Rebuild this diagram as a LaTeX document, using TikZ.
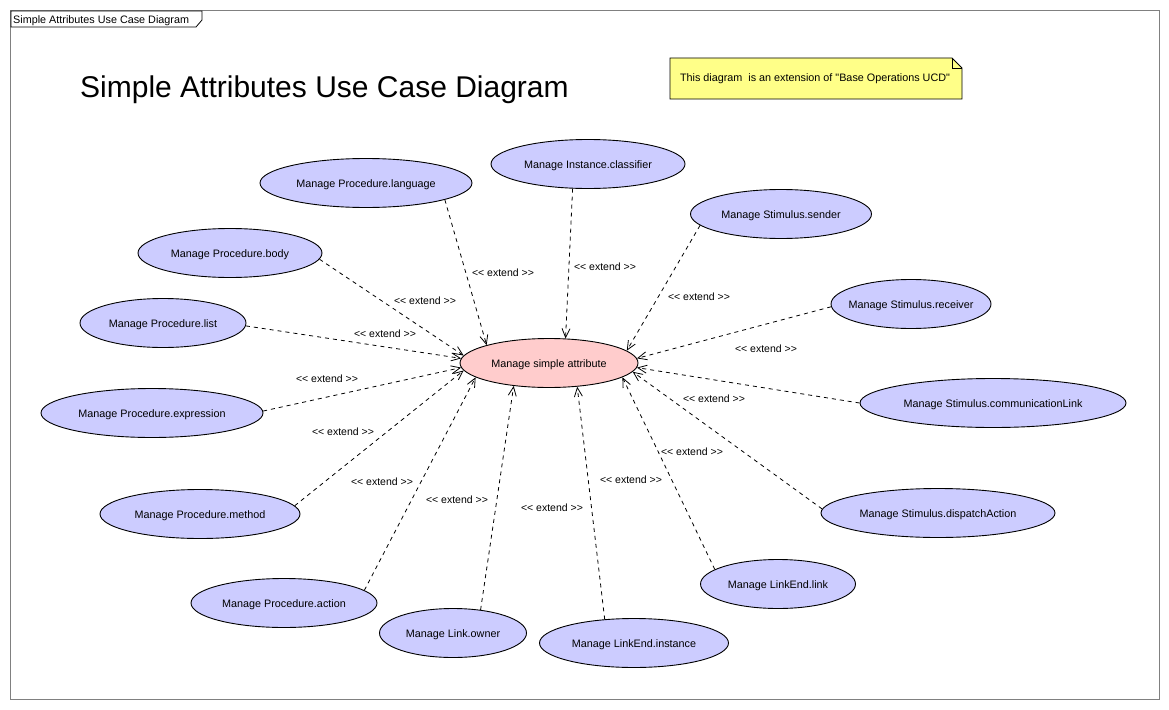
\documentclass[tikz,border=0pt]{standalone}
\usepackage{fontspec}
\setmainfont{Liberation Sans}[Ligatures=TeXOff]
\usetikzlibrary{arrows.meta,shapes.geometric}
\definecolor{ucfill}{RGB}{204,204,255}
\definecolor{mainfill}{RGB}{255,204,204}
\definecolor{notefill}{RGB}{255,255,136}
\definecolor{framegray}{RGB}{128,128,128}
\tikzset{
  uc/.style={ellipse, draw=black, fill=ucfill, line width=0.9pt, inner sep=0pt, minimum height=49pt},
  uctext/.style={font=\fontsize{10.8}{12}\selectfont, inner sep=0pt, yshift=-1.5pt},
  ext/.style={draw=black, line width=0.8pt, dash pattern=on 4pt off 4pt,
              -{Straight Barb[length=9pt,width=8pt]}},
  extlbl/.style={font=\fontsize{10.5}{12}\selectfont, inner sep=0pt, yshift=-1.5pt},
  smalltext/.style={font=\fontsize{10.8}{12}\selectfont, inner sep=0pt, yshift=-1.5pt},
}
\begin{document}
\begin{tikzpicture}[x=1pt,y=-1pt]
\useasboundingbox[fill=white] (0,0) rectangle (1169,709);
% frame
\draw[framegray, line width=0.9pt] (10.5,10.5) rectangle (1159.5,699.5);
\draw[black, line width=0.8pt, fill=white] (11,11) -- (202,11) -- (202,20) -- (196,27) -- (11,27) -- cycle;
\node[smalltext, anchor=west] (frametitle) at (13,19) {Simple Attributes Use Case Diagram};
% title
\node[font=\fontsize{30}{36}\selectfont, anchor=west, inner sep=0pt] (title) at (80,90) {Simple Attributes Use Case Diagram};
% note
\draw[black, line width=0.8pt, fill=notefill] (670,58) -- (952,58) -- (962,68) -- (962,99) -- (670,99) -- cycle;
\draw[black, line width=0.8pt] (952,58) -- (952,68) -- (962,68);
\node[smalltext] (note) at (815,77) {This diagram\hspace{3pt} is an extension of "Base Operations UCD"};
% use cases
\node[uc, fill=mainfill, minimum width=178pt, label={[uctext]center:Manage simple attribute}] (msa) at (549,363) {};
\node[uc, minimum width=194pt, label={[uctext]center:Manage Instance.classifier}] (cls) at (588,164) {};
\node[uc, minimum width=212pt, label={[uctext]center:Manage Procedure.language}] (lang) at (366,183) {};
\node[uc, minimum width=181pt, label={[uctext]center:Manage Stimulus.sender}] (snd) at (781,214) {};
\node[uc, minimum width=184pt, label={[uctext]center:Manage Procedure.body}] (body) at (230,253) {};
\node[uc, minimum width=160pt, label={[uctext]center:Manage Stimulus.receiver}] (rcv) at (911,304) {};
\node[uc, minimum width=166pt, label={[uctext]center:Manage Procedure.list}] (lst) at (163,323) {};
\node[uc, minimum width=222pt, label={[uctext]center:Manage Procedure.expression}] (expr) at (152,413) {};
\node[uc, minimum width=266pt, label={[uctext]center:Manage Stimulus.communicationLink}] (clk) at (993,403) {};
\node[uc, minimum width=200pt, label={[uctext]center:Manage Procedure.method}] (meth) at (200,514) {};
\node[uc, minimum width=234pt, label={[uctext]center:Manage Stimulus.dispatchAction}] (disp) at (938,513) {};
\node[uc, minimum width=155pt, label={[uctext]center:Manage LinkEnd.link}] (lel) at (778,584) {};
\node[uc, minimum width=186pt, label={[uctext]center:Manage Procedure.action}] (act) at (284,603) {};
\node[uc, minimum width=147pt, label={[uctext]center:Manage Link.owner}] (own) at (453,633) {};
\node[uc, minimum width=189pt, label={[uctext]center:Manage LinkEnd.instance}] (lei) at (634,643) {};
% extend connectors
\draw[ext] (lang.-12) -- (msa.164);
\draw[ext] (cls.238) -- (msa.56);
\draw[ext] (snd.188) -- (msa.9);
\draw[ext] (body.-4) -- (msa.175);
\draw[ext] (rcv.182) -- (msa.3);
\draw[ext] (lst.-2) -- (msa.177);
\draw[ext] (expr.1) -- (msa.183);
\draw[ext] (clk.180) -- (msa.-3);
\draw[ext] (meth.5) -- (msa.185);
\draw[ext] (disp.178) -- (msa.-6);
\draw[ext] (lel.167) -- (msa.-11);
\draw[ext] (act.9) -- (msa.191);
\draw[ext] (own.40) -- (msa.213);
\draw[ext] (lei.141) -- (msa.-40);
% labels
\node[extlbl] (x1) at (503,271) {<< extend >>};
\node[extlbl] (x2) at (605,265) {<< extend >>};
\node[extlbl] (x3) at (699,295) {<< extend >>};
\node[extlbl] (x4) at (425,299) {<< extend >>};
\node[extlbl] (x5) at (766,347) {<< extend >>};
\node[extlbl] (x6) at (385,332) {<< extend >>};
\node[extlbl] (x7) at (327,377) {<< extend >>};
\node[extlbl] (x8) at (714,397) {<< extend >>};
\node[extlbl] (x9) at (343,430) {<< extend >>};
\node[extlbl] (x10) at (692,450) {<< extend >>};
\node[extlbl] (x11) at (631,478) {<< extend >>};
\node[extlbl] (x12) at (382,480) {<< extend >>};
\node[extlbl] (x13) at (457,498) {<< extend >>};
\node[extlbl] (x14) at (552,506) {<< extend >>};
\end{tikzpicture}
\end{document}
